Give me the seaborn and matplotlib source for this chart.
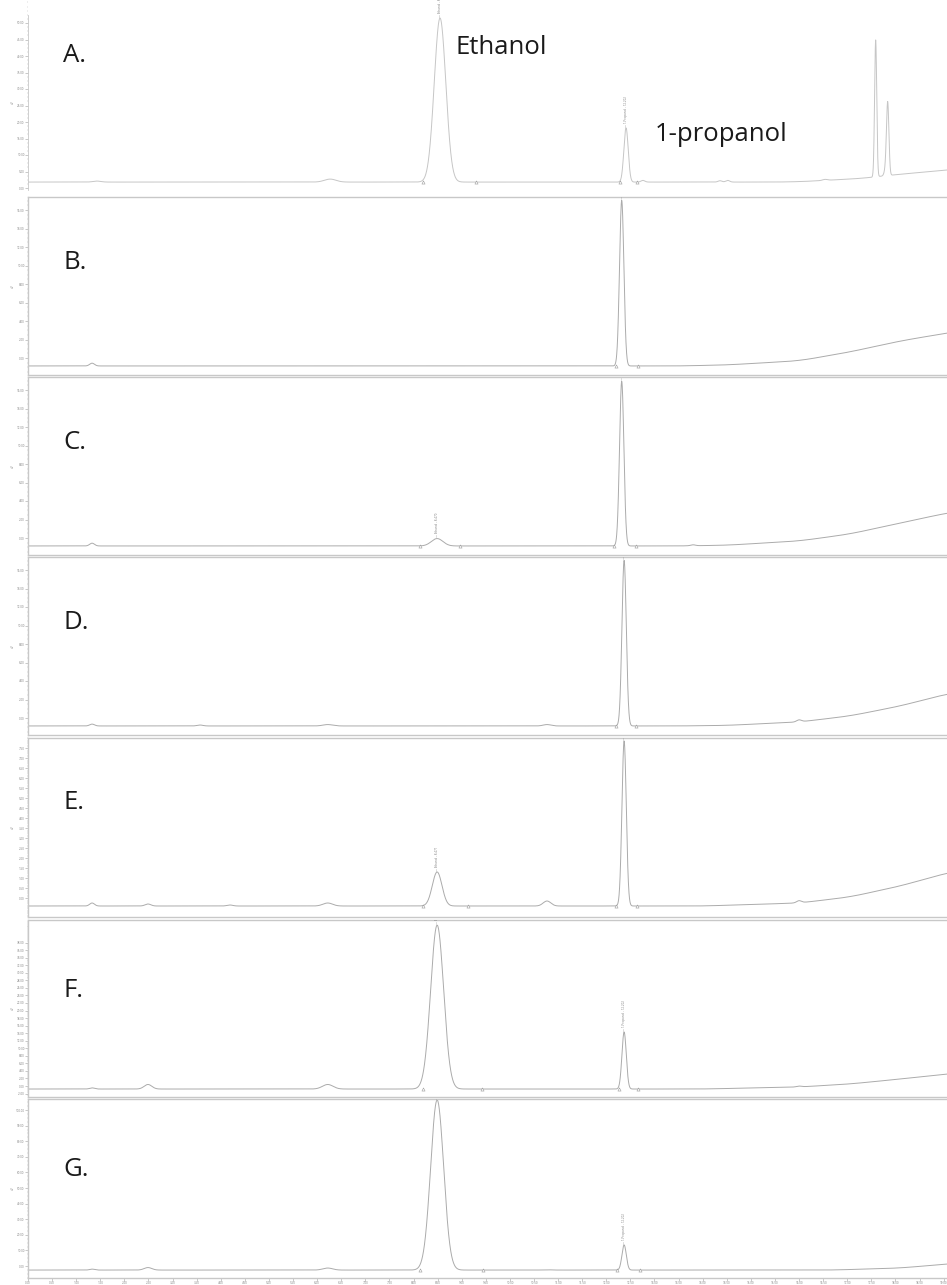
import numpy as np
import pandas as pd
import matplotlib.pyplot as plt
import seaborn as sns
from matplotlib.ticker import MultipleLocator, AutoMinorLocator

# retention time axis in minutes
time_max = 19.34
x_tick_step = 0.5

# peak tables: (retention time min, height uV, width min)
peaks_A = [(1.43, 0.3, 0.08), (6.27, 0.9, 0.12), (8.55, 49.7, 0.12), (12.41, 16.4, 0.045),
           (12.76, 0.5, 0.04), (14.36, 0.4, 0.04), (14.52, 0.5, 0.04), (16.54, 0.3, 0.05),
           (17.59, 41.5, 0.022), (17.80, 2.0, 0.03), (17.84, 21.6, 0.025)]
peaks_B = [(1.33, 0.3, 0.05), (12.32, 17.9, 0.045)]
peaks_C = [(1.33, 0.3, 0.05), (8.49, 0.8, 0.12), (12.32, 17.8, 0.045), (13.80, 0.1, 0.05)]
peaks_D = [(1.33, 0.2, 0.05), (3.57, 0.1, 0.06), (6.22, 0.15, 0.1), (10.77, 0.15, 0.08),
           (12.37, 17.9, 0.045), (16.0, 0.2, 0.05)]
peaks_E = [(1.33, 0.15, 0.05), (2.49, 0.1, 0.06), (4.19, 0.05, 0.06), (6.22, 0.15, 0.1),
           (8.49, 1.7, 0.1), (10.77, 0.25, 0.08), (12.37, 8.25, 0.045), (16.0, 0.1, 0.05)]
peaks_F = [(1.33, 0.3, 0.05), (2.49, 1.2, 0.08), (6.22, 1.2, 0.11), (8.49, 43.4, 0.135),
           (12.37, 15.1, 0.045), (16.0, 0.2, 0.05)]
peaks_G = [(1.33, 0.6, 0.05), (2.49, 1.6, 0.08), (6.22, 1.3, 0.1), (8.49, 109.0, 0.135),
           (10.77, 0.2, 0.08), (12.37, 16.1, 0.045)]

# baseline drift: (time, signal) points
base_A = [(0, 1.8), (15.5, 1.8), (16.0, 1.9), (17.3, 2.9), (17.9, 3.9), (19.1, 5.5), (19.4, 5.9)]
base_B = [(0, -0.86), (13.5, -0.86), (14.5, -0.75), (16.0, -0.3), (17.05, 0.65),
          (18.1, 1.84), (19.07, 2.7), (19.4, 2.95)]
base_C = [(0, -0.86), (13.5, -0.86), (14.5, -0.78), (16.0, -0.32), (17.05, 0.43),
          (18.1, 1.62), (19.07, 2.7), (19.4, 2.95)]
base_D = [(0, -0.86), (13.5, -0.86), (14.5, -0.8), (16.0, -0.43), (17.05, 0.22),
          (18.1, 1.3), (19.07, 2.6), (19.4, 2.85)]
base_E = [(0, -0.4), (14.0, -0.4), (16.0, -0.25), (17.05, 0.05), (18.1, 0.6),
          (19.07, 1.25), (19.4, 1.4)]
base_F = [(0, -0.8), (14.0, -0.8), (16.0, -0.26), (17.05, 0.53), (18.1, 1.85),
          (19.07, 3.2), (19.4, 3.5)]
base_G = [(0, -2.6), (16.68, -2.6), (18.1, -1.3), (19.07, 1.3), (19.4, 2.0)]

# peak labels printed above the apex
labels_A = [(8.55, 'Ethanol - 8.470'), (12.41, '1-Propanol - 12.202')]
labels_B = [(12.32, '1-Propanol - 12.202')]
labels_C = [(8.49, 'Ethanol - 8.470'), (12.32, '1-Propanol - 12.202')]
labels_D = [(12.37, '1-Propanol - 12.202')]
labels_E = [(8.49, 'Ethanol - 8.471'), (12.37, '1-Propanol - 12.202')]
labels_F = [(8.49, 'Ethanol - 8.470'), (12.37, '1-Propanol - 12.202')]
labels_G = [(8.49, 'Ethanol - 8.470'), (12.37, '1-Propanol - 12.202')]

# integration start / end marks
marks_A = [8.20, 9.29, 12.28, 12.63]
marks_B = [12.20, 12.66]
marks_C = [8.13, 8.96, 12.16, 12.61]
marks_D = [12.20, 12.61]
marks_E = [8.20, 9.13, 12.20, 12.63]
marks_F = [8.20, 9.42, 12.26, 12.66]
marks_G = [8.13, 9.44, 12.22, 12.70]

panel_names = ['A.', 'B.', 'C.', 'D.', 'E.', 'F.', 'G.']
y_ticks = [(0, 50, 5), (0, 16, 2), (0, 16, 2), (0, 16, 2), (0, 7.5, 0.5), (-2, 38, 2), (0, 100, 10)]

# layout in pixels: top, bottom, pixel of y=0, pixels per uV, label baseline
layout = [(15, 190, 188, 3.3, 62), (197, 375, 358, 9.25, 269), (377, 555, 538, 9.25, 449),
          (557, 735, 718, 9.25, 629), (738, 917, 898, 20.0, 809), (920, 1097, 1086, 3.775, 997),
          (1099, 1278, 1266, 1.56, 1176)]

W, H = 947, 1285
sns.set_theme(style='white')
plt.rcParams['font.family'] = ['Open Sans', 'DejaVu Sans']

fig = plt.figure(figsize=(W / 100, H / 100), dpi=100)
t = np.linspace(0, time_max, 9000)

all_peaks = [peaks_A, peaks_B, peaks_C, peaks_D, peaks_E, peaks_F, peaks_G]
all_base = [base_A, base_B, base_C, base_D, base_E, base_F, base_G]
all_labels = [labels_A, labels_B, labels_C, labels_D, labels_E, labels_F, labels_G]
all_marks = [marks_A, marks_B, marks_C, marks_D, marks_E, marks_F, marks_G]

left_px, width_px = 28, 932
frame_col = '#c8c8c8'
txt_col = '#808080'


def smooth_base(vals, n=301):
    # rounds off the corners between the read baseline points
    pad = np.concatenate([np.full(n, vals[0]), vals, np.full(n, vals[-1])])
    out = np.convolve(pad, np.ones(n) / n, mode='same')
    return out[n:-n]


for i in range(7):
    top, bottom, y0, ppu, lab_y = layout[i]
    ax_top = 0 if i == 0 else top
    ax = fig.add_axes([left_px / W, 1 - bottom / H, width_px / W, (bottom - ax_top) / H])

    bt = [p[0] for p in all_base[i]]
    bv = [p[1] for p in all_base[i]]
    base = smooth_base(np.interp(t, bt, bv))
    sig = base.copy()
    for rt, h, w in all_peaks[i]:
        sig += h * np.exp(-0.5 * ((t - rt) / w) ** 2)
    df = pd.DataFrame({'time': t, 'signal': sig})

    col = '#c6c6c6' if i == 0 else '#ababab'
    sns.lineplot(data=df, x='time', y='signal', ax=ax, color=col, linewidth=0.7,
                 estimator=None, errorbar=None)

    ax.set_xlim(0, time_max)
    ax.set_ylim((y0 - bottom) / ppu, (y0 - ax_top) / ppu)

    # peak labels
    for rt, text in all_labels[i]:
        near = np.abs(t - rt) < 0.06
        apex = sig[near].max()
        ax.annotate('\u2014 ' + text, (rt, apex), xytext=(0, 0.8), textcoords='offset points',
                    rotation=90, ha='center', va='bottom', fontsize=2.2, color=txt_col,
                    annotation_clip=False, clip_on=True)

    # integration marks on the baseline
    mt = all_marks[i]
    ax.scatter(mt, np.interp(mt, t, base), marker='^', s=5, facecolors='white',
               edgecolors='#9a9a9a', linewidths=0.4, zorder=3)

    lo, hi, step = y_ticks[i]
    ax.set_yticks(np.arange(lo, hi + step / 2, step))
    ax.yaxis.set_major_formatter(plt.FormatStrFormatter('%.2f'))
    ax.yaxis.set_minor_locator(AutoMinorLocator(4))
    ax.tick_params(axis='y', which='major', left=True, length=2, width=0.4, color='#a0a0a0',
                   labelsize=2.2, labelcolor=txt_col, pad=0.4)
    ax.tick_params(axis='y', which='minor', left=True, length=1, width=0.3, color='#b0b0b0')
    ax.set_ylabel('uV', fontsize=2.2, color=txt_col)
    ax.yaxis.set_label_coords(-13 / width_px, (bottom - top) / 2 / (bottom - ax_top))

    if i == 6:
        ax.xaxis.set_major_locator(MultipleLocator(x_tick_step))
        ax.xaxis.set_minor_locator(AutoMinorLocator(5))
        ax.xaxis.set_major_formatter(plt.FormatStrFormatter('%.2f'))
        ax.tick_params(axis='x', which='major', bottom=True, length=2, width=0.4,
                       color='#a0a0a0', labelsize=2.2, labelcolor=txt_col, pad=0.4)
        ax.tick_params(axis='x', which='minor', bottom=True, length=1, width=0.3, color='#b0b0b0')
    else:
        ax.set_xticks([])
    ax.set_xlabel('')

    for name, sp in ax.spines.items():
        sp.set_color(frame_col)
        sp.set_linewidth(1.0)
    if i == 0:
        ax.spines['top'].set_visible(False)
        ax.spines['right'].set_visible(False)
        ax.spines['bottom'].set_visible(False)
        ax.spines['left'].set_linewidth(0.6)
        ax.spines['left'].set_bounds((y0 - bottom) / ppu, (y0 - top) / ppu)
    ax.patch.set_alpha(0)

    fig.text(63 / W, 1 - lab_y / H, panel_names[i], fontsize=18.5, color='#1a1a1a',
             ha='left', va='baseline')

fig.text(455 / W, 1 - 54 / H, 'Ethanol', fontsize=18.5, color='#1a1a1a', ha='left', va='baseline')
fig.text(655 / W, 1 - 141 / H, '1-propanol', fontsize=18.5, color='#1a1a1a', ha='left', va='baseline')

fig.savefig('out.png', dpi=100, facecolor='white')
